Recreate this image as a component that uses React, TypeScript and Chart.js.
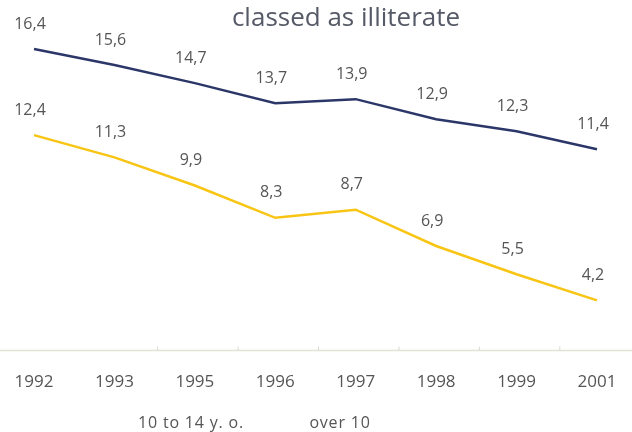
import React, { useEffect, useRef } from "react";
import { Chart, registerables } from "chart.js";

Chart.register(...registerables);

const years = ["1992", "1993", "1995", "1996", "1997", "1998", "1999", "2001"];
const over10 = [16.4, 15.6, 14.7, 13.7, 13.9, 12.9, 12.3, 11.4];
const age10to14 = [12.4, 11.3, 9.9, 8.3, 8.7, 6.9, 5.5, 4.2];
const seriesNames = ["10 to 14 y. o.", "over 10"];
const titleText = "classed as illiterate";

const FONT = "'Open Sans', 'Noto Sans', sans-serif";
const TEXT = "#555555";

const decorPlugin = {
  id: "decor",
  beforeDatasetsDraw(chart: any) {
    const { ctx, chartArea, scales } = chart;
    const y = chartArea.bottom;
    ctx.save();
    ctx.strokeStyle = "#e4e2d8";
    ctx.lineWidth = 1.5;
    ctx.beginPath();
    ctx.moveTo(0, y);
    ctx.lineTo(chart.width, y);
    ctx.stroke();
    ctx.strokeStyle = "#dcdad0";
    ctx.lineWidth = 1;
    for (let i = 1; i < years.length - 1; i++) {
      const x = (scales.x.getPixelForValue(i) + scales.x.getPixelForValue(i + 1)) / 2 + 3;
      ctx.beginPath();
      ctx.moveTo(x, y - 4);
      ctx.lineTo(x, y);
      ctx.stroke();
    }
    ctx.restore();
  },
  afterDatasetsDraw(chart: any) {
    const { ctx } = chart;
    ctx.save();
    ctx.fillStyle = TEXT;
    ctx.font = `16px ${FONT}`;
    ctx.textAlign = "center";
    ctx.textBaseline = "middle";
    chart.data.datasets.forEach((ds: any, di: number) => {
      const meta = chart.getDatasetMeta(di);
      meta.data.forEach((pt: any, i: number) => {
        const label = Number(ds.data[i]).toFixed(1).replace(".", ",");
        ctx.fillText(label, pt.x - 4, pt.y - 25);
      });
    });
    // title
    ctx.fillStyle = "#555a66";
    ctx.font = `26px ${FONT}`;
    ctx.textBaseline = "alphabetic";
    ctx.fillText(titleText, 346, 26);
    // legend texts
    ctx.fillStyle = TEXT;
    ctx.font = `16px ${FONT}`;
    (ctx as any).letterSpacing = "0.8px";
    ctx.textBaseline = "middle";
    ctx.fillText(seriesNames[0], 191, 423);
    ctx.fillText(seriesNames[1], 340, 423);
    ctx.restore();
  },
};

export default function App() {
  const ref = useRef<HTMLCanvasElement>(null);
  useEffect(() => {
    if (!ref.current) return;
    const chart = new Chart(ref.current, {
      type: "line",
      data: {
        labels: years,
        datasets: [
          {
            label: seriesNames[1],
            data: over10,
            borderColor: "#2c3769",
            borderWidth: 2.5,
            pointRadius: 0,
            tension: 0,
            yAxisID: "y",
          },
          {
            label: seriesNames[0],
            data: age10to14,
            borderColor: "#f8c514",
            borderWidth: 2.5,
            pointRadius: 0,
            tension: 0,
            yAxisID: "y2",
          },
        ],
      },
      options: {
        responsive: false,
        animation: false,
        layout: { padding: { left: 34, right: 35, top: 10, bottom: 37 } },
        plugins: { legend: { display: false }, title: { display: false }, tooltip: { enabled: false } },
        scales: {
          x: {
            type: "category",
            offset: false,
            grid: { display: false, drawTicks: true, tickLength: 18 },
            border: { display: false },
            ticks: { font: { family: FONT, size: 17 }, color: TEXT, padding: 3, maxRotation: 0, autoSkip: false },
          },
          y: { display: false, min: 1.35, max: 18.35 },
          y2: { display: false, min: 1.71, max: 18.61 },
        },
      },
      plugins: [decorPlugin],
    });
    return () => chart.destroy();
  }, []);
  return (
    <div style={{ position: "fixed", left: 0, top: 0, width: 632, height: 432, background: "#fff" }}>
      <canvas ref={ref} width={632} height={432} style={{ width: 632, height: 432 }} />
    </div>
  );
}
